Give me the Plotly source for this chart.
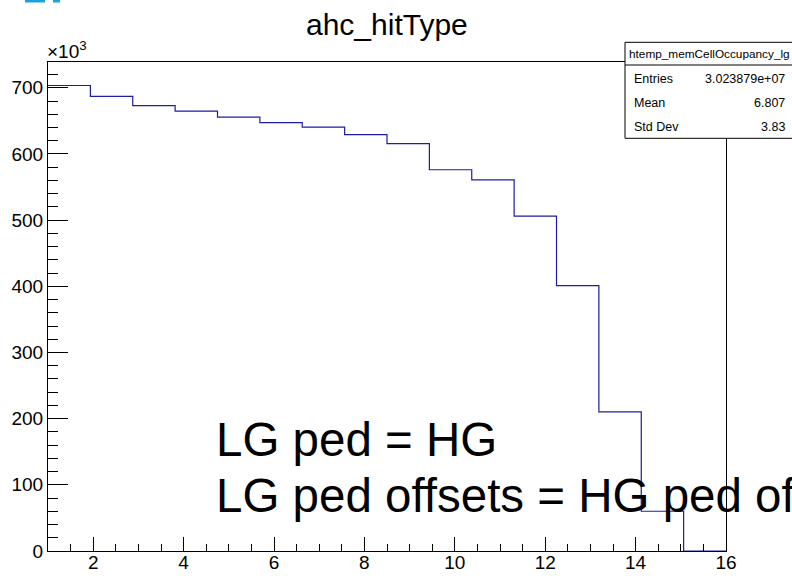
import plotly.graph_objects as go

# ---------------- data ----------------
nbins = 16
xmin, xmax = 1.0, 16.0
counts_k = [703.5, 687.0, 673.0, 664.7, 655.6, 647.5, 640.5, 629.2,
            615.6, 576.2, 561.0, 506.0, 401.0, 210.3, 60.1, 0.0]  # x10^3
x_tickvals = [2, 4, 6, 8, 10, 12, 14, 16]
y_tickvals = [0, 100, 200, 300, 400, 500, 600, 700]
title_text = "ahc_hitType"
stats_name = "htemp_memCellOccupancy_lg"
stats_labels = ["Entries", "Mean", "Std Dev"]
stats_values = ["3.023879e+07", "6.807", "3.83"]
note_lines = ["LG ped = HG", "LG ped offsets = HG ped offsets"]

edges = [xmin + i * (xmax - xmin) / nbins for i in range(nbins + 1)]
x_step = edges
y_step = counts_k + [counts_k[-1]]

# ---------------- layout helpers (pixel -> paper) ----------------
W, H = 792, 576
PL, PR, PT, PB = 48, 726, 62, 551


def px(x):
    return (x - PL) / (PR - PL)


def py(y):
    return (PB - y) / (PB - PT)


FONT = "Liberation Sans, Arial, Helvetica, sans-serif"

fig = go.Figure()
fig.add_trace(go.Scatter(
    x=x_step, y=y_step, mode="lines", line_shape="hv",
    line=dict(color="#1c1ca6", width=1.2), hoverinfo="skip", showlegend=False,
))

shapes = []
annotations = []

# stats box
shapes.append(dict(type="rect", xref="paper", yref="paper",
                   x0=px(625), x1=px(805), y0=py(138.3), y1=py(42.3),
                   fillcolor="white", line=dict(color="black", width=1), layer="above"))
shapes.append(dict(type="line", xref="paper", yref="paper",
                   x0=px(625), x1=px(805), y0=py(65), y1=py(65),
                   line=dict(color="black", width=1), layer="above"))
annotations.append(dict(xref="paper", yref="paper", x=px(709), y=py(53.5),
                        xanchor="center", yanchor="middle", showarrow=False,
                        text=stats_name, font=dict(family=FONT, size=11.8, color="black")))
row_y = [79, 102.7, 126.7]
for lab, val, yy in zip(stats_labels, stats_values, row_y):
    annotations.append(dict(xref="paper", yref="paper", x=px(632), y=py(yy),
                            xanchor="left", yanchor="middle", showarrow=False,
                            text=lab, font=dict(family=FONT, size=12.5, color="black")))
    annotations.append(dict(xref="paper", yref="paper", x=px(787), y=py(yy),
                            xanchor="right", yanchor="middle", showarrow=False,
                            text=val, font=dict(family=FONT, size=12.5, color="black")))

# title
annotations.append(dict(xref="paper", yref="paper", x=0.5, y=py(24),
                        xanchor="center", yanchor="middle", showarrow=False,
                        text=title_text, font=dict(family=FONT, size=30, color="black")))

# x10^3 exponent label
annotations.append(dict(xref="paper", yref="paper", x=px(45), y=py(64),
                        xanchor="left", yanchor="bottom", showarrow=False,
                        text="×10<sup>3</sup>", font=dict(family=FONT, size=19, color="black")))

# big note text
for line, yy in zip(note_lines, [439, 495.5]):
    annotations.append(dict(xref="paper", yref="paper", x=px(214), y=py(yy),
                            xanchor="left", yanchor="middle", showarrow=False,
                            text=line, font=dict(family=FONT, size=47.5, color="black")))

# cropped blue glyph at the top-left corner
for x0, x1 in [(25, 45), (53, 60)]:
    shapes.append(dict(type="rect", xref="paper", yref="paper",
                       x0=px(x0), x1=px(x1), y0=py(2.5), y1=py(-1),
                       fillcolor="#1ba1e2", line=dict(width=0), layer="above"))

fig.update_layout(
    width=W, height=H,
    margin=dict(l=PL, r=W - PR, t=PT, b=H - PB, autoexpand=False),
    paper_bgcolor="white", plot_bgcolor="white",
    font=dict(family=FONT, color="black"),
    shapes=shapes, annotations=annotations,
    showlegend=False,
)
fig.update_xaxes(
    range=[xmin, xmax], tickvals=x_tickvals, ticktext=[str(v) for v in x_tickvals],
    ticks="inside", ticklen=14, tickwidth=1, tickcolor="black",
    minor=dict(dtick=0.5, tick0=1, ticks="inside", ticklen=7, tickcolor="black", showgrid=False),
    showline=True, linecolor="black", linewidth=1, mirror=True, automargin=False,
    ticklabelstandoff=-6,
    showgrid=False, zeroline=False, tickfont=dict(size=19, family=FONT, color="black"),
)
fig.update_yaxes(
    range=[0, 739], tickvals=y_tickvals, ticktext=[str(v) for v in y_tickvals],
    ticks="inside", ticklen=20, tickwidth=1, tickcolor="black",
    minor=dict(dtick=20, tick0=0, ticks="inside", ticklen=10, tickcolor="black", showgrid=False),
    showline=True, linecolor="black", linewidth=1, mirror=True, automargin=False,
    showgrid=False, zeroline=False, tickfont=dict(size=19, family=FONT, color="black"),
)

fig.write_html("out.html")
